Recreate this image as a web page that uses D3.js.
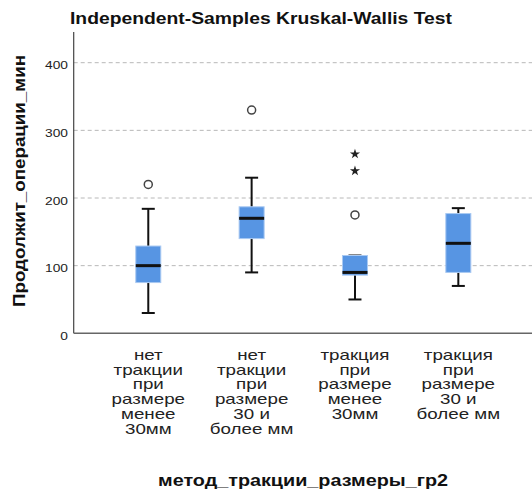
<!DOCTYPE html>
<html><head><meta charset="utf-8">
<script src="https://cdn.jsdelivr.net/npm/d3@7"></script>
<style>body{margin:0;background:#fff}svg{display:block;font-family:"Liberation Sans",Arial,sans-serif}</style>
</head><body><svg id="c" width="532" height="494"></svg>
<script>
const categories = [
  ["нет","тракции","при","размере","менее","30мм"],
  ["нет","тракции","при","размере","30 и","более мм"],
  ["тракция","при","размере","менее","30мм"],
  ["тракция","при","размере","30 и","более мм"]
];
const whiskerLow = [30, 90, 50, 70];
const q1 = [75, 140, 86, 90];
const median = [100, 170, 90, 133];
const q3 = [129, 187, 115, 177];
const whiskerHigh = [184, 230, 115, 185];
const outliers = [[220], [330], [175], []];
const extremes = [[], [], [265, 240], []];
const yTicks = [0, 100, 200, 300, 400];

(function(){
const svg = d3.select("#c");
const x = d3.scaleBand().domain(d3.range(categories.length)).range([96.6, 510]);
const y = d3.scaleLinear().domain([0, 400]).range([333.3, 62.7]);
const leftX = 73.7, rightX = 532, topY = 32;

svg.append("g").selectAll("line").data(yTicks.filter(d=>d>0)).join("line")
  .attr("x1", leftX).attr("x2", rightX).attr("y1", d=>y(d)).attr("y2", d=>y(d))
  .attr("stroke", "#b8b8b8").attr("stroke-dasharray", "4,3").attr("stroke-width", 1);

const yAxis = d3.axisLeft(y).tickValues(yTicks).tickSize(0).tickPadding(0);
const ga = svg.append("g").attr("transform", `translate(${leftX},0)`).call(yAxis);
ga.select(".domain").remove();
ga.selectAll("text").attr("font-size", 11).attr("fill", "#222").attr("font-family", "Liberation Sans, Arial, sans-serif")
  .attr("x", 0).attr("dy", null).attr("y", 0)
  .attr("transform", "translate(-5.7,6) scale(1.25,1)");

svg.append("line").attr("x1", leftX).attr("x2", leftX).attr("y1", topY).attr("y2", y(0)).attr("stroke", "#444").attr("stroke-width", 1.2);
svg.append("line").attr("x1", leftX).attr("x2", rightX).attr("y1", y(0)).attr("y2", y(0)).attr("stroke", "#666").attr("stroke-width", 1.6);

const bw = 25, cap = 13;
categories.forEach((c, i) => {
  const cx = x(i) + x.bandwidth()/2;
  const g = svg.append("g");
  g.append("line").attr("x1", cx).attr("x2", cx).attr("y1", y(whiskerHigh[i])).attr("y2", y(q3[i])).attr("stroke", "#111").attr("stroke-width", 2);
  g.append("line").attr("x1", cx).attr("x2", cx).attr("y1", y(q1[i])).attr("y2", y(whiskerLow[i])).attr("stroke", "#111").attr("stroke-width", 2);
  [whiskerHigh[i], whiskerLow[i]].forEach(v => {
    g.append("line").attr("x1", cx - cap/2).attr("x2", cx + cap/2).attr("y1", y(v)).attr("y2", y(v)).attr("stroke", "#111").attr("stroke-width", 2);
  });
  g.append("rect").attr("x", cx - bw/2).attr("width", bw).attr("y", y(q3[i])).attr("height", y(q1[i]) - y(q3[i]))
    .attr("fill", "#5795e3").attr("stroke", "#a9c9f2").attr("stroke-width", 1);
  g.append("line").attr("x1", cx - bw/2).attr("x2", cx + bw/2).attr("y1", y(median[i])).attr("y2", y(median[i])).attr("stroke", "#111").attr("stroke-width", 3);
  outliers[i].forEach(v => {
    g.append("circle").attr("cx", cx).attr("cy", y(v)).attr("r", 4).attr("fill", "#fff").attr("stroke", "#444").attr("stroke-width", 1.5);
  });
  extremes[i].forEach(v => {
    g.append("path").attr("transform", `translate(${cx},${y(v)})`).attr("d", d3.symbol(d3.symbolStar, 32)()).attr("fill", "#222");
  });
  c.forEach((line, k) => {
    svg.append("text").attr("transform", `translate(${cx},${360 + k*14.7}) scale(1.34,1)`)
      .attr("text-anchor", "middle").attr("font-size", 14).attr("fill", "#222").text(line);
  });
});

svg.append("text").attr("x", 261).attr("y", 24).attr("text-anchor", "middle").attr("font-weight", "bold").attr("font-size", 17).attr("fill", "#111")
  .attr("textLength", 382).attr("lengthAdjust", "spacingAndGlyphs").text("Independent-Samples Kruskal-Wallis Test");
svg.append("text").attr("transform", "translate(25,181) rotate(-90)").attr("text-anchor", "middle").attr("font-weight", "bold").attr("font-size", 17).attr("fill", "#111")
  .attr("textLength", 252).attr("lengthAdjust", "spacingAndGlyphs").text("Продолжит_операции_мин");
svg.append("text").attr("x", 303).attr("y", 486).attr("text-anchor", "middle").attr("font-weight", "bold").attr("font-size", 17).attr("fill", "#111")
  .attr("textLength", 290).attr("lengthAdjust", "spacingAndGlyphs").text("метод_тракции_размеры_гр2");
})();
</script></body></html>
